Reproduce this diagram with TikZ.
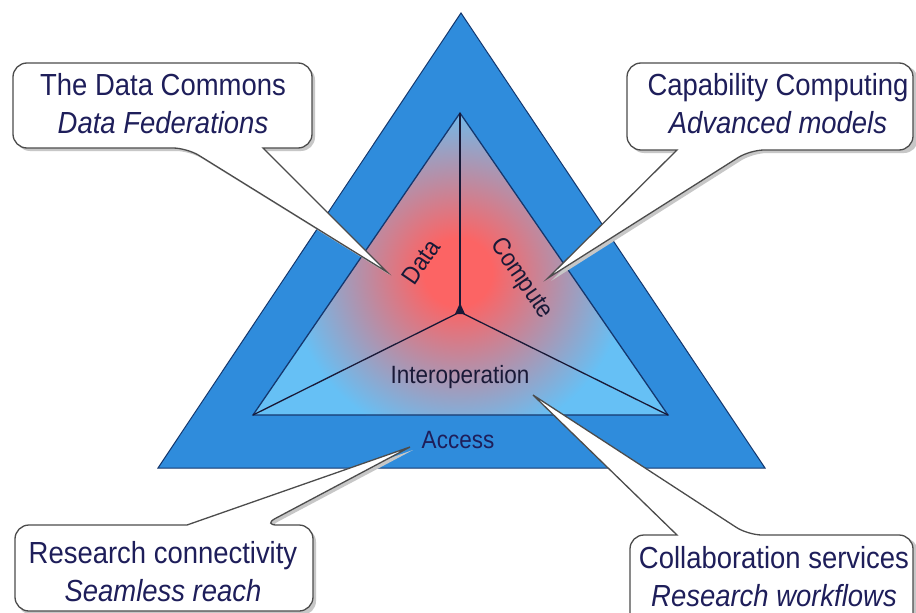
\documentclass[tikz,border=0pt]{standalone}
\usepackage{fontspec}
\setmainfont{Liberation Sans}[FakeStretch=0.9]
\definecolor{outerblue}{RGB}{47,140,220}
\definecolor{lightblue}{RGB}{102,192,245}
\definecolor{glowred}{RGB}{252,100,100}
\definecolor{navytext}{RGB}{30,30,90}
\definecolor{darktext}{RGB}{25,25,55}
\definecolor{edgeblue}{RGB}{20,55,110}
\pgfdeclareradialshading{redglow}{\pgfpoint{0bp}{0bp}}{color(0bp)=(glowred); color(5bp)=(glowred); color(25bp)=(lightblue); color(50bp)=(lightblue)}
\tikzset{
  callbox/.style={draw=black!70, line width=1.3pt, fill=white},
  callshadow/.style={fill=black!22, draw=none},
  calltext/.style={font=\fontsize{30.5}{38}\selectfont, text=navytext, align=center, inner sep=0pt},
  innertext/.style={font=\fontsize{25}{30}\selectfont, text=darktext, inner sep=0pt},
  spoke/.style={draw=darktext, line width=1.3pt},
}
\begin{document}
\begin{tikzpicture}[x=1pt,y=-1pt]
\useasboundingbox (0,0) rectangle (916,613);
\clip (0,0) rectangle (916,613);
\fill[white] (0,0) rectangle (916,613);
% coordinates
\coordinate (oA) at (461,13);
\coordinate (oL) at (158,468);
\coordinate (oR) at (765,468);
\coordinate (iA) at (460,113);
\coordinate (iL) at (253,415);
\coordinate (iR) at (668,415);
\coordinate (ctr) at (460,312);
% outer triangle
\filldraw[fill=outerblue, draw=edgeblue, line width=1pt] (oA) -- (oL) -- (oR) -- cycle;
% inner triangle
\fill[lightblue] (iA) -- (iL) -- (iR) -- cycle;
\begin{scope}
  \clip (iA) -- (iL) -- (iR) -- cycle;
  \shade[shading=redglow] (458,272) circle (170);
\end{scope}
\draw[draw=edgeblue, line width=1.3pt] (iA) -- (iL) -- (iR) -- cycle;
\draw[spoke] (ctr) -- (iA);
\draw[spoke] (ctr) -- (iL);
\draw[spoke] (ctr) -- (iR);
\fill[darktext] (460,303) -- (455,314) -- (465,314) -- cycle;
% inner labels
\node[innertext, rotate=55.6] (data) at (421,262) {Data};
\node[innertext, rotate=-55.6] (compute) at (521,279) {Compute};
\node[innertext] (interop) at (460,377) {Interoperation};
\node[innertext, text=navytext] (access) at (458,440) {Access};
% callout: top left
\fill[callshadow, rounded corners=14] (266,151) -- (315,151) -- (315,66) -- (16,66) -- (16,151) -- (190,151) [sharp corners] -- (390,275) -- cycle;
\draw[callbox, rounded corners=14] (263,148) -- (312,148) -- (312,63) -- (13,63) -- (13,148) -- (187,148) [sharp corners] -- (387,272) -- cycle;
\node[calltext] (dc) at (163,104) {The Data Commons\\\itshape Data Federations};
% callout: top right
\fill[callshadow, rounded corners=14] (680,153) -- (630,153) -- (630,66) -- (918,66) -- (918,153) -- (753,153) [sharp corners] -- (551,281) -- cycle;
\draw[callbox, rounded corners=14] (677,150) -- (627,150) -- (627,63) -- (913,63) -- (913,150) -- (750,150) [sharp corners] -- (548,278) -- cycle;
\node[calltext] (cc) at (778,104) {Capability Computing\\\itshape Advanced models};
% callout: bottom left
\fill[callshadow, rounded corners=14] (190,528) -- (18,528) -- (18,615) -- (316,615) -- (316,528) -- (266,528) [sharp corners] -- (413,450) -- cycle;
\draw[callbox, rounded corners=14] (187,525) -- (15,525) -- (15,611) -- (313,611) -- (313,525) -- (263,525) [sharp corners] -- (410,447) -- cycle;
\node[calltext] (rc) at (163,572) {Research connectivity\\\itshape Seamless reach};
% callout: bottom right
\fill[callshadow, rounded corners=14] (680,538) -- (633,538) -- (633,640) -- (918,640) -- (918,538) -- (751,538) [sharp corners] -- (536,398) -- cycle;
\draw[callbox, rounded corners=14] (677,535) -- (630,535) -- (630,640) -- (913,640) -- (913,535) -- (748,535) [sharp corners] -- (533,395) -- cycle;
\node[calltext] (cs) at (774,577) {Collaboration services\\\itshape Research workflows};
\end{tikzpicture}
\end{document}
